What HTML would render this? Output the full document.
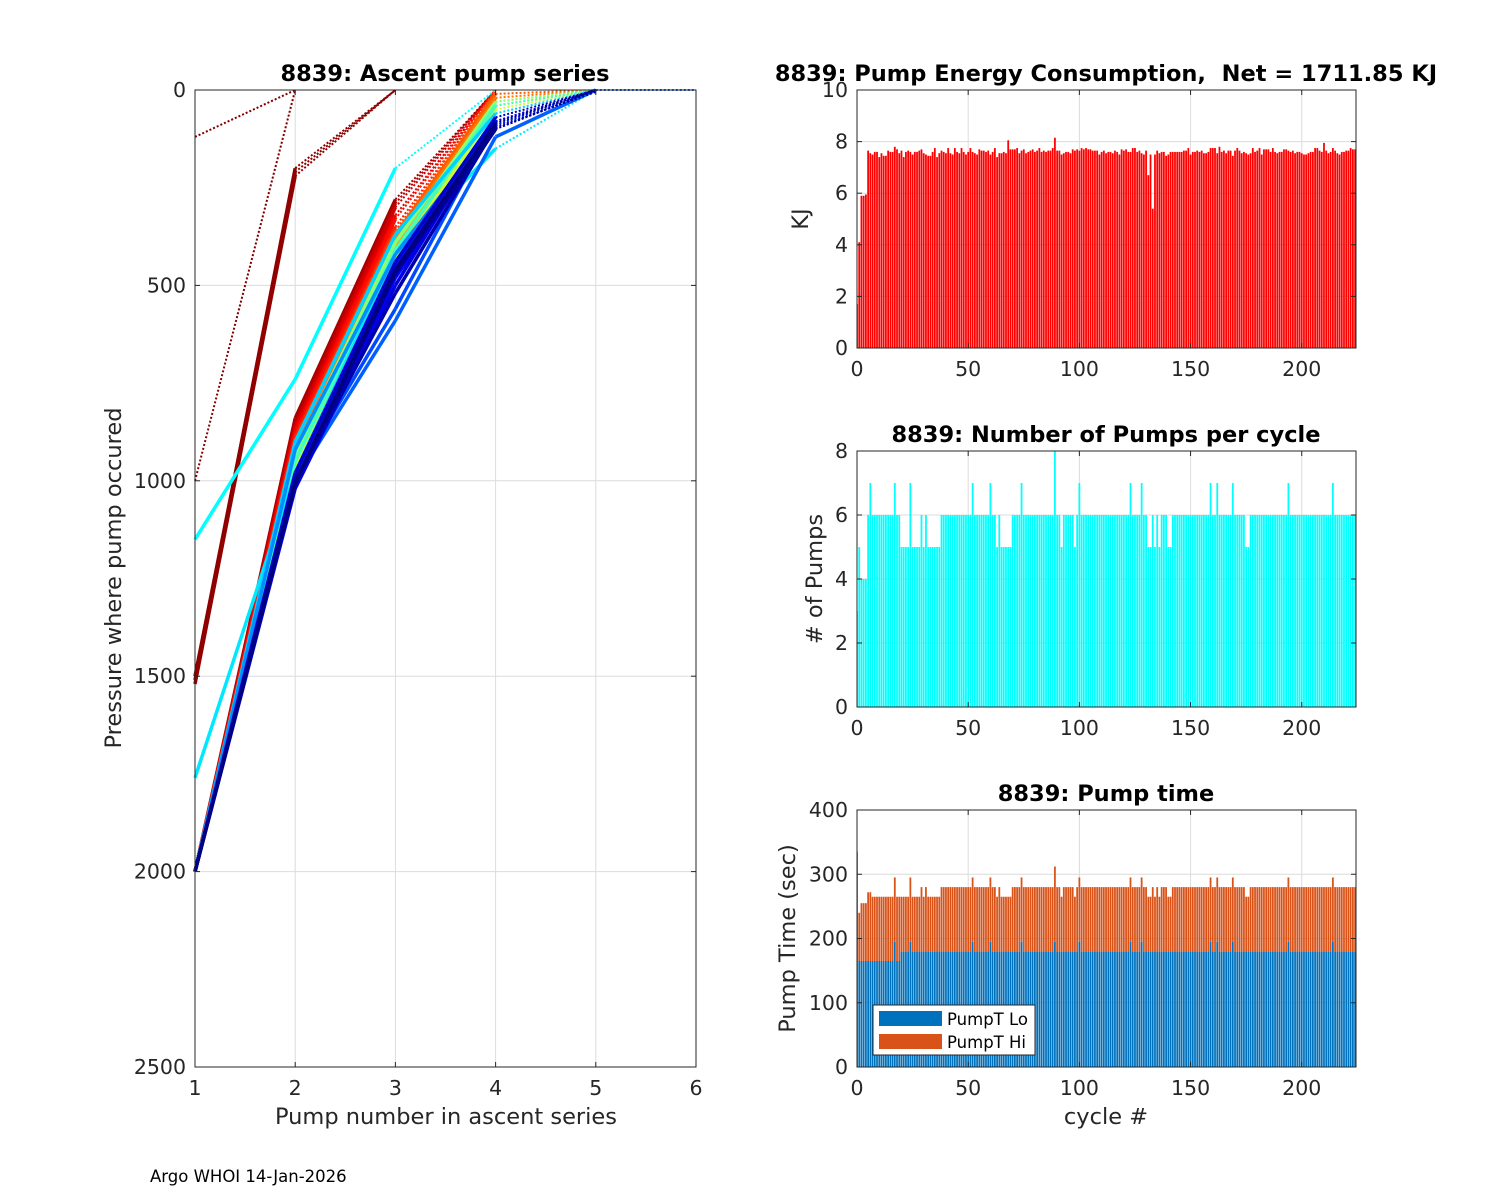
<!DOCTYPE html>
<html><head><meta charset="utf-8"><style>
html,body{margin:0;padding:0;background:#fff;}
svg{display:block;font-family:"DejaVu Sans","Liberation Sans",sans-serif;}
text{white-space:pre;}
</style></head><body>
<svg id="fig" width="1500" height="1200" viewBox="0 0 1500 1200" xmlns="http://www.w3.org/2000/svg">
<rect width="1500" height="1200" fill="#fff"/>
<g id="g1"></g>
<g id="g2"></g>
<g id="g3"></g>
<g id="g4"></g>
<text x="150" y="1182" font-size="16.5" fill="#000">Argo WHOI 14-Jan-2026</text>
</svg>
<script>
const energy = [
1.7,4.1,5.9,5.9,5.95,7.65,7.55,7.5,7.6,7.6,7.4,7.55,7.45,7.45,7.65,7.6,7.6,7.8,7.7,7.55,7.65,7.4,7.6,7.65,7.6,
7.5,7.6,7.6,7.65,7.7,7.55,7.5,7.45,7.45,7.6,7.75,7.4,7.55,7.65,7.6,7.55,7.75,7.55,7.5,7.75,7.6,7.55,7.75,7.6,7.5,
7.6,7.75,7.6,7.55,7.5,7.7,7.65,7.65,7.6,7.65,7.5,7.6,7.75,7.4,7.55,7.55,7.6,7.55,8.05,7.7,7.7,7.7,7.75,7.55,7.65,
7.7,7.55,7.6,7.65,7.7,7.6,7.65,7.75,7.6,7.65,7.6,7.65,7.65,7.75,8.15,7.65,7.65,7.5,7.55,7.6,7.6,7.55,7.7,7.65,7.7,
7.65,7.75,7.7,7.75,7.7,7.7,7.65,7.65,7.65,7.5,7.6,7.65,7.55,7.6,7.6,7.55,7.65,7.6,7.5,7.7,7.65,7.7,7.6,7.6,7.75,
7.75,7.6,7.65,7.55,7.5,7.65,6.7,7.5,5.4,7.5,7.65,7.55,7.6,7.6,7.45,7.5,7.6,7.6,7.6,7.6,7.6,7.6,7.65,7.65,7.75,
7.5,7.6,7.6,7.65,7.6,7.65,7.55,7.55,7.6,7.75,7.75,7.75,7.55,7.8,7.6,7.65,7.55,7.65,7.65,7.45,7.65,7.75,7.65,7.55,7.6,
7.55,7.5,7.55,7.75,7.6,7.65,7.75,7.5,7.7,7.7,7.7,7.6,7.75,7.6,7.55,7.6,7.6,7.7,7.7,7.65,7.6,7.65,7.55,7.6,7.6,
7.55,7.5,7.5,7.55,7.6,7.6,7.75,7.75,7.65,7.6,7.95,7.65,7.55,7.6,7.75,7.65,7.55,7.5,7.6,7.6,7.65,7.65,7.75,7.7,7.7];
const pumps = [
3,5,4,4,4,6,7,6,6,6,6,6,6,6,6,6,6,7,6,6,5,5,5,5,7,
5,5,5,5,6,5,6,5,5,5,5,5,5,6,6,6,6,6,6,6,6,6,6,6,6,
6,6,7,6,6,6,6,6,6,6,7,6,6,5,6,5,5,5,5,5,6,6,6,6,7,
6,6,6,6,6,6,6,6,6,6,6,6,6,6,8,6,6,5,6,6,6,6,6,5,6,
7,6,6,6,6,6,6,6,6,6,6,6,6,6,6,6,6,6,6,6,6,6,6,7,6,
6,6,6,7,6,6,5,5,6,5,6,5,6,6,6,5,5,6,6,6,6,6,6,6,6,
6,6,6,6,6,6,6,6,6,7,6,6,7,6,6,6,6,6,6,7,6,6,6,6,6,
5,5,6,6,6,6,6,6,6,6,6,6,6,6,6,6,6,6,6,7,6,6,6,6,6,
6,6,6,6,6,6,6,6,6,6,6,6,6,6,7,6,6,6,6,6,6,6,6,6,6];
const pumpLo = [
240,165,165,165,165,165,165,165,165,165,165,165,165,165,165,165,165,195,165,165,180,180,180,180,195,
180,180,180,180,180,180,180,180,180,180,180,180,180,180,180,180,180,180,180,180,180,180,180,180,180,
180,180,195,180,180,180,180,180,180,180,195,180,180,180,180,180,180,180,180,180,180,180,180,180,195,
180,180,180,180,180,180,180,180,180,180,180,180,180,180,195,180,180,180,180,180,180,180,180,180,180,
195,180,180,180,180,180,180,180,180,180,180,180,180,180,180,180,180,180,180,180,180,180,180,195,180,
180,180,180,195,180,180,180,180,180,180,180,180,180,180,180,180,180,180,180,180,180,180,180,180,180,
180,180,180,180,180,180,180,180,180,195,180,180,195,180,180,180,180,180,180,195,180,180,180,180,180,
180,180,180,180,180,180,180,180,180,180,180,180,180,180,180,180,180,180,180,195,180,180,180,180,180,
180,180,180,180,180,180,180,180,180,180,180,180,180,180,195,180,180,180,180,180,180,180,180,180,180];
const pumpHi = [
95,75,90,90,90,107,107,100,100,100,100,100,100,100,100,100,100,100,100,100,85,85,85,85,100,
85,85,85,85,100,85,100,85,85,85,85,85,85,100,100,100,100,100,100,100,100,100,100,100,100,
100,100,100,100,100,100,100,100,100,100,100,100,100,85,100,85,85,85,85,85,100,100,100,100,100,
100,100,100,100,100,100,100,100,100,100,100,100,100,100,117,100,100,85,100,100,100,100,100,85,100,
100,100,100,100,100,100,100,100,100,100,100,100,100,100,100,100,100,100,100,100,100,100,100,100,100,
100,100,100,100,100,100,85,85,100,85,100,85,100,100,100,85,85,100,100,100,100,100,100,100,100,
100,100,100,100,100,100,100,100,100,100,100,100,100,100,100,100,100,100,100,100,100,100,100,100,100,
85,85,100,100,100,100,100,100,100,100,100,100,100,100,100,100,100,100,100,100,100,100,100,100,100,
100,100,100,100,100,100,100,100,100,100,100,100,100,100,100,100,100,100,100,100,100,100,100,100,100];
const profCycle = [0,1,2,3,4,8,12,18,24,30,36,42,48,54,62,70,95,110,125,140,145,150,165,175,180,190,196,202,208,214,220,224];
const profP = [
[120,0],[1000,0],[1500,210,0],[1510,200,0],[1520,220,0],
[2000,840,280,0],[2000,850,290,0],[2000,860,300,0],[2000,870,320,0],[2000,880,330,0],
[2000,890,350,0],[2000,900,360,0],[2000,910,370,10,0],[2000,920,380,20,0],[2000,940,400,30,0],
[2000,950,420,40,0],[2000,960,430,50,0],[2000,930,390,30,0],[2000,950,410,40,0],
[1150,740,200,0],[1760,980,420,150,0],[2000,900,370,60,0],[2000,920,420,90,0],
[2000,1000,590,120,0,0],[2000,990,560,80,0],[2000,1000,450,90,0],[2000,1010,480,100,0],
[2000,1020,500,80,0],[2000,980,440,70,0],[2000,1000,520,95,5],[2000,1010,470,100,0],[2000,1005,460,85,0]];
const xTicksL = [1,2,3,4,5,6];
const yTicksL = [0,500,1000,1500,2000,2500];
const cycTicks = [0,50,100,150,200];
const eTicks = [0,2,4,6,8,10];
const nTicks = [0,2,4,6,8];
const tTicks = [0,100,200,300,400];

const NS='http://www.w3.org/2000/svg';
function mk(tag,parent,attrs){const e=document.createElementNS(NS,tag);for(const k in attrs)e.setAttribute(k,attrs[k]);parent.appendChild(e);return e;}
const AX='#262626', GRID='#dcdcdc';
function jet(t){const c=v=>Math.round(255*Math.max(0,Math.min(1,v)));return `rgb(${c(1.5-Math.abs(4*t-3))},${c(1.5-Math.abs(4*t-2))},${c(1.5-Math.abs(4*t-1))})`;}

function axesFrame(g,L,T,R,B,xt,xs,yt,ys){
  xt.forEach(v=>{const x=xs(v);
    const gl=mk('line',g,{x1:x,x2:x,y1:T,y2:B,stroke:GRID,'stroke-width':1});
    });
  yt.forEach(v=>{const y=ys(v);
    const gl=mk('line',g,{x1:L,x2:R,y1:y,y2:y,stroke:GRID,'stroke-width':1});
    });
}
function axesBox(g,L,T,R,B,xt,xs,yt,ys){
  const r=mk('rect',g,{x:L,y:T,width:R-L,height:B-T,fill:'none',stroke:AX,'stroke-width':1});
  
  xt.forEach(v=>{const x=xs(v);
    mk('line',g,{x1:x,x2:x,y1:B,y2:B-5,stroke:AX});mk('line',g,{x1:x,x2:x,y1:T,y2:T+5,stroke:AX});
    const t=mk('text',g,{x:x,y:B+28,'font-size':20.5,fill:AX,'text-anchor':'middle'});t.textContent=v;
    });
  yt.forEach(v=>{const y=ys(v);
    mk('line',g,{x1:L,x2:L+5,y1:y,y2:y,stroke:AX});mk('line',g,{x1:R,x2:R-5,y1:y,y2:y,stroke:AX});
    const t=mk('text',g,{x:L-9,y:y+7,'font-size':20.5,fill:AX,'text-anchor':'end'});t.textContent=v;
    });
}
function txt(g,x,y,s,size,bold,rot,name){
  const t=mk('text',g,{x:x,y:y,'font-size':size,fill:bold?'#000':AX,'text-anchor':'middle','font-weight':bold?'bold':'normal'});
  if(rot)t.setAttribute('transform',`rotate(-90 ${x} ${y})`);
  t.textContent=s;
  
}

(function(){
  const g=document.getElementById('g1');
  const L=195,R=696,T=90,B=1067;
  const xs=v=>L+(v-1)*(R-L)/5, ys=v=>T+v*(B-T)/2500;
  axesFrame(g,L,T,R,B,xTicksL,xs,yTicksL,ys);
  const n=energy.length-1;
  profP.forEach((p,i)=>{
    const col=jet(1-profCycle[i]/n);
    for(let k=0;k<p.length-1;k++){
      const last=(k===p.length-2);
      const ln=mk('line',g,{x1:xs(k+1),y1:ys(p[k]),x2:xs(k+2),y2:ys(p[k+1]),stroke:col,'stroke-width':last?2:3.5,'stroke-dasharray':last?'2 2':'none'});
      
      
    }
  });
  axesBox(g,L,T,R,B,xTicksL,xs,yTicksL,ys);
  txt(g,445,81,'8839: Ascent pump series',22.5,true,false,'ascent-title');
  txt(g,446,1124,'Pump number in ascent series',22.5,false,false,'x-axis-title');
  txt(g,121,578,'Pressure where pump occured',22.5,false,true,'y-axis-title');
})();

const L2=857,R2=1356,XMAX=224.4;
const cx=v=>L2+v*(R2-L2)/XMAX;
function barChart(gid,T,B,ymax,yt,series,colors,title,ylab,ylx,bname){
  const g=document.getElementById(gid);
  const ys=v=>B-v*(B-T)/ymax;
  axesFrame(g,L2,T,R2,B,cycTicks,cx,yt,ys);
  const w=0.8*(R2-L2)/XMAX;
  for(let i=0;i<series[0].length;i++){
    let base=0;
    series.forEach((s,j)=>{
      const y0=ys(base), y1=ys(base+s[i]);
      const r=mk('rect',g,{x:cx(i)-w/2,y:y1,width:w,height:Math.max(0,y0-y1),fill:colors[j]});
      
      
      base+=s[i];
    });
  }
  mk('rect',g,{x:L2-10,y:T,width:10,height:B-T,fill:'#fff'});
  axesBox(g,L2,T,R2,B,cycTicks,cx,yt,ys);
  txt(g,1106,T-9,title,22.5,true,false,gid+'-title');
  txt(g,ylx,(T+B)/2,ylab,22.5,false,true,gid+'-y-axis-title');
}
barChart('g2',90,348,10,eTicks,[energy],['#ff0000'],'8839: Pump Energy Consumption,  Net = 1711.85 KJ','KJ',808,'energy-bar');
barChart('g3',451,707,8,nTicks,[pumps],['#00ffff'],'8839: Number of Pumps per cycle','# of Pumps',822,'pumps-bar');
barChart('g4',810,1067,400,tTicks,[pumpLo,pumpHi],['#0072bd','#d95319'],'8839: Pump time','Pump Time (sec)',795,'pump-time-bar');
(function(){
  const g=document.getElementById('g4');
  txt(g,1106,1124,'cycle #',22.5,false,false,'cycle-axis-title');
  const lg=mk('g',g,{});
  
  mk('rect',lg,{x:873,y:1005,width:162,height:50,fill:'#fff',stroke:AX,'stroke-width':1});
  const items=[['PumpT Lo','#0072bd',1011],['PumpT Hi','#d95319',1034]];
  items.forEach(it=>{
    const e=mk('g',lg,{});
    
    
    mk('rect',e,{x:879,y:it[2],width:63,height:15,fill:it[1]});
    const t=mk('text',e,{x:947,y:it[2]+14,'font-size':16.5,fill:'#000'});t.textContent=it[0];
  });
})();
</script>
</body></html>
